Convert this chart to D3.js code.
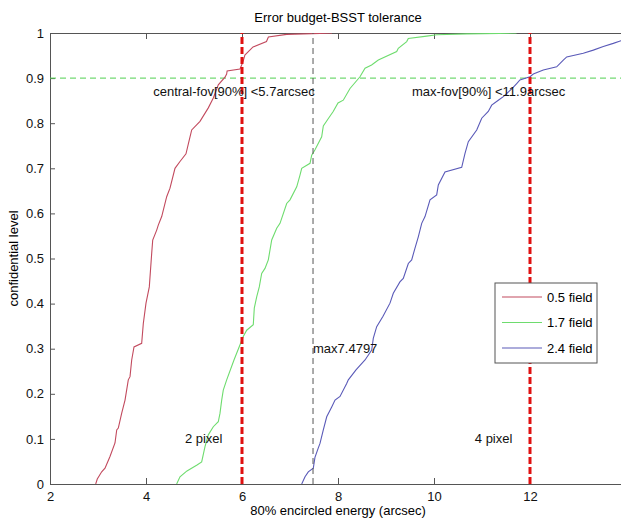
<!doctype html>
<html lang="en">
<head>
<meta charset="UTF-8">
<title>Error budget-BSST tolerance</title>
<script src="https://cdn.jsdelivr.net/npm/d3@7"></script>
<style>
    body { margin: 0; background: #fff; }
    svg { display: block; font-family: "Liberation Sans", Arial, sans-serif; }
    .axis path, .axis line { stroke: #555; }
    .axis text { font-size: 13px; fill: #111; font-family: "Liberation Sans", Arial, sans-serif; }
    .note { font-size: 13px; fill: #111; }
</style>
</head>
<body>
<div id="chart"></div>
<script>
// x ticks / y ticks
const xTicks = [2, 4, 6, 8, 10, 12]
const yTicks = [0, 0.1, 0.2, 0.3, 0.4, 0.5, 0.6, 0.7, 0.8, 0.9, 1]

const seriesNames = ['0.5 field', '1.7 field', '2.4 field']

// [energy, level] pairs
const field05 = [
    [2.952, 0], [2.985, 0.011], [3.077, 0.027], [3.146, 0.035], [3.25, 0.061], [3.354, 0.091],
    [3.39, 0.120], [3.423, 0.124], [3.494, 0.157], [3.563, 0.186], [3.631, 0.231], [3.667, 0.238],
    [3.702, 0.275], [3.75, 0.304], [3.91, 0.312], [3.944, 0.356], [4.0, 0.401], [4.069, 0.437],
    [4.119, 0.512], [4.14, 0.541], [4.223, 0.563], [4.256, 0.574], [4.327, 0.593], [4.431, 0.637],
    [4.5, 0.656], [4.604, 0.700], [4.708, 0.715], [4.833, 0.732], [4.902, 0.763], [4.952, 0.785],
    [5.125, 0.804], [5.298, 0.834], [5.402, 0.856], [5.506, 0.885], [5.646, 0.902], [5.68, 0.909],
    [5.69, 0.916], [5.958, 0.920], [6.02, 0.936], [6.06, 0.951], [6.23, 0.969], [6.51, 0.981],
    [6.55, 0.991], [6.93, 0.997], [7.625, 0.999], [7.875, 1.0]
]
const field17 = [
    [4.639, 0], [4.708, 0.016], [4.854, 0.029], [5.063, 0.042], [5.16, 0.049], [5.229, 0.083],
    [5.298, 0.109], [5.402, 0.127], [5.506, 0.138], [5.542, 0.157], [5.577, 0.186], [5.61, 0.208],
    [5.681, 0.231], [5.833, 0.275], [6.027, 0.327], [6.098, 0.341], [6.235, 0.353], [6.256, 0.390],
    [6.306, 0.415], [6.36, 0.437], [6.41, 0.467], [6.479, 0.478], [6.548, 0.497], [6.619, 0.541],
    [6.723, 0.567], [6.792, 0.578], [6.931, 0.622], [7.0, 0.630], [7.14, 0.659], [7.208, 0.685],
    [7.244, 0.700], [7.417, 0.711], [7.452, 0.729], [7.521, 0.741], [7.66, 0.770], [7.694, 0.794],
    [7.81, 0.812], [7.9, 0.826], [8.0, 0.845], [8.11, 0.851], [8.25, 0.877], [8.458, 0.903],
    [8.563, 0.922], [8.7, 0.929], [8.84, 0.940], [9.223, 0.959], [9.256, 0.966], [9.431, 0.981],
    [9.465, 0.988], [9.848, 0.993], [10.056, 0.996], [10.681, 0.998], [11.375, 0.999], [11.72, 1.0]
]
const field24 = [
    [7.244, 0], [7.313, 0.016], [7.381, 0.027], [7.485, 0.035], [7.52, 0.059], [7.59, 0.080],
    [7.625, 0.090], [7.694, 0.120], [7.765, 0.149], [7.869, 0.171], [7.938, 0.186], [8.042, 0.194],
    [8.181, 0.223], [8.215, 0.231], [8.375, 0.253], [8.563, 0.275], [8.702, 0.297], [8.735, 0.323],
    [8.806, 0.349], [8.938, 0.372], [9.083, 0.401], [9.152, 0.423], [9.29, 0.448], [9.36, 0.456],
    [9.465, 0.489], [9.535, 0.497], [9.604, 0.523], [9.673, 0.548], [9.744, 0.578], [9.813, 0.593],
    [9.917, 0.630], [10.056, 0.641], [10.09, 0.663], [10.229, 0.692], [10.577, 0.702], [10.646, 0.733],
    [10.715, 0.759], [10.89, 0.785], [10.994, 0.811], [11.131, 0.826], [11.202, 0.840], [11.34, 0.851],
    [11.444, 0.859], [11.619, 0.876], [11.723, 0.888], [11.79, 0.896], [12.0, 0.903], [12.069, 0.909],
    [12.277, 0.918], [12.556, 0.925], [12.694, 0.940], [12.765, 0.947], [13.11, 0.955], [13.319, 0.962],
    [13.527, 0.970], [13.735, 0.977], [13.896, 0.983], [14.3, 0.99]
]

// reference lines and notes
const pixelLimits = [6, 12]
const maxValue = 7.4797
const levelLine = 0.9
const notes = [
    { x: 4.15, y: 0.87, text: 'central-fov[90%] <5.7arcsec' },
    { x: 9.54, y: 0.87, text: 'max-fov[90%] <11.9arcsec' },
    { x: 7.4797, y: 0.3, text: 'max7.4797' },
    { x: 4.81, y: 0.1, text: '2 pixel' },
    { x: 10.85, y: 0.1, text: '4 pixel' }
]

const width = 621, height = 518
const margin = { left: 50, top: 33 }
const plotW = 576, plotH = 451

const colors = ['#c24a5e', '#6edc6e', '#5a5ab8']

const x = d3.scaleLinear().domain([2, 14]).range([margin.left, margin.left + plotW])
const y = d3.scaleLinear().domain([0, 1]).range([margin.top + plotH, margin.top])

const svg = d3.select('#chart').append('svg')
    .attr('width', width)
    .attr('height', height)

svg.append('defs').append('clipPath').attr('id', 'plot-clip')
    .append('rect')
    .attr('x', margin.left).attr('y', margin.top)
    .attr('width', plotW).attr('height', plotH)

// title and axis labels
svg.append('text')
    .attr('x', margin.left + plotW / 2)
    .attr('y', 22)
    .attr('text-anchor', 'middle')
    .style('font-size', '13px')
    .text('Error budget-BSST tolerance')

svg.append('text')
    .attr('x', margin.left + plotW / 2)
    .attr('y', 515)
    .attr('text-anchor', 'middle')
    .style('font-size', '13px')
    .text('80% encircled energy (arcsec)')

svg.append('text')
    .attr('transform', 'translate(18,' + (margin.top + plotH / 2) + ') rotate(-90)')
    .attr('text-anchor', 'middle')
    .style('font-size', '13px')
    .text('confidential level')

// axes (MATLAB style, ticks inside, box all round)
svg.append('g').attr('class', 'axis')
    .attr('transform', 'translate(0,' + (margin.top + plotH) + ')')
    .call(d3.axisBottom(x).tickValues(xTicks).tickSizeInner(-6).tickSizeOuter(0).tickPadding(8))
svg.append('g').attr('class', 'axis')
    .attr('transform', 'translate(0,' + margin.top + ')')
    .call(d3.axisTop(x).tickValues(xTicks).tickSizeInner(-6).tickSizeOuter(0).tickFormat(''))
svg.append('g').attr('class', 'axis')
    .attr('transform', 'translate(' + margin.left + ',0)')
    .call(d3.axisLeft(y).tickValues(yTicks).tickSizeInner(-5).tickSizeOuter(0).tickPadding(6)
        .tickFormat(d3.format('~g')))
svg.append('g').attr('class', 'axis')
    .attr('transform', 'translate(' + (margin.left + plotW) + ',0)')
    .call(d3.axisRight(y).tickValues(yTicks).tickSizeInner(-5).tickSizeOuter(0).tickFormat(''))

const plot = svg.append('g').attr('clip-path', 'url(#plot-clip)')

// horizontal 90% line
plot.append('line')
    .attr('x1', x(2)).attr('x2', x(14))
    .attr('y1', y(levelLine)).attr('y2', y(levelLine))
    .attr('stroke', '#4fcf4f')
    .attr('stroke-width', 1)
    .attr('stroke-dasharray', '6,4')

// curves
const line = d3.line().x(d => x(d[0])).y(d => y(d[1]))
;[field05, field17, field24].forEach(function(data, i) {
    plot.append('path')
        .datum(data)
        .attr('d', line)
        .attr('fill', 'none')
        .attr('stroke', colors[i])
        .attr('stroke-width', 1.1)
})

// max value line
plot.append('line')
    .attr('x1', x(maxValue)).attr('x2', x(maxValue))
    .attr('y1', y(0)).attr('y2', y(1))
    .attr('stroke', '#555')
    .attr('stroke-width', 1)
    .attr('stroke-dasharray', '6,4')

// pixel limit lines
plot.selectAll('.limit')
    .data(pixelLimits)
    .enter().append('line')
    .attr('class', 'limit')
    .attr('x1', d => x(d)).attr('x2', d => x(d))
    .attr('y1', y(0)).attr('y2', y(1))
    .attr('stroke', '#e01010')
    .attr('stroke-width', 3)
    .attr('stroke-dasharray', '7,3')

// notes
svg.selectAll('.note')
    .data(notes)
    .enter().append('text')
    .attr('class', 'note')
    .attr('x', d => x(d.x))
    .attr('y', d => y(d.y))
    .attr('dy', '0.35em')
    .text(d => d.text)

// legend
const legend = svg.append('g').attr('transform', 'translate(495,283)')
legend.append('rect')
    .attr('width', 102).attr('height', 80)
    .attr('fill', '#fff')
    .attr('stroke', '#555')
seriesNames.forEach(function(name, i) {
    const ly = 14 + i * 25.5
    legend.append('line')
        .attr('x1', 7).attr('x2', 47)
        .attr('y1', ly).attr('y2', ly)
        .attr('stroke', colors[i])
        .attr('stroke-width', 1.1)
    legend.append('text')
        .attr('x', 52).attr('y', ly)
        .attr('dy', '0.35em')
        .style('font-size', '13px')
        .text(name)
})
</script>
</body>
</html>
